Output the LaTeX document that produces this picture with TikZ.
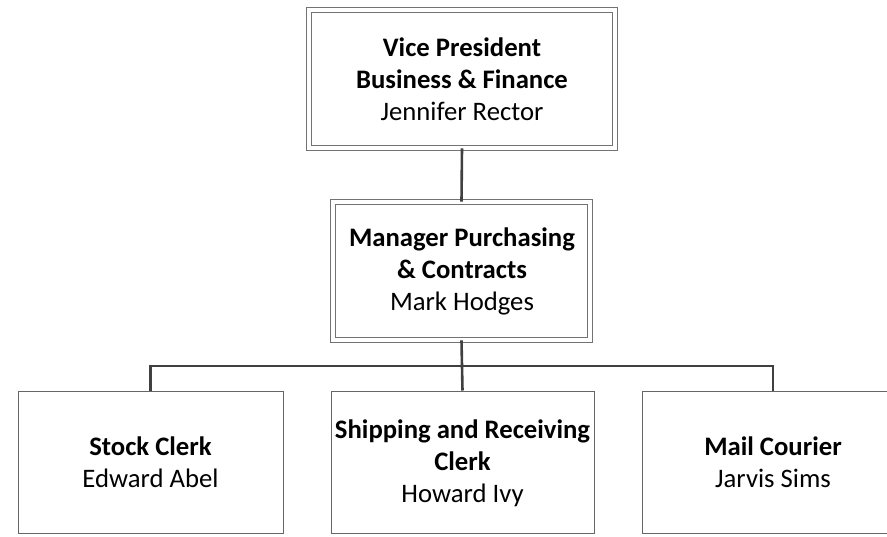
\documentclass[tikz,border=0pt]{standalone}
\usepackage{fontspec}
\setmainfont{Carlito}
\begin{document}
\begin{tikzpicture}[x=1pt,y=-1pt]
\tikzset{
 dbl/.style={draw=black!55, double=white, double distance=3.4pt, line width=0.9pt, inner sep=0pt},
 sbox/.style={draw=black!60, line width=1pt, inner sep=0pt, minimum height=142pt},
 txt/.style={align=center, font=\fontsize{26.7}{32}\selectfont, inner sep=0pt, text=black},
 conn/.style={draw=black!75, line width=2.6pt}
}
\useasboundingbox[fill=white] (0,0) rectangle (887,536);
\clip (0,0) rectangle (887,536);
% boxes
\node[dbl, minimum width=306pt, minimum height=138pt] (top) at (462,79) {};
\node[dbl, minimum width=257pt, minimum height=138pt] (mid) at (461.5,271) {};
\node[sbox, minimum width=265pt] (b1) at (150.5,462) {};
\node[sbox, minimum width=263pt] (b2) at (462.5,462) {};
\node[sbox, minimum width=262pt] (b3) at (773,462) {};
% texts
\node[txt] (ttop) at (462,79) {\textbf{Vice President}\\\textbf{Business \& Finance}\\Jennifer Rector};
\node[txt] (tmid) at (462,271) {\textbf{Manager Purchasing}\\\textbf{\& Contracts}\\Mark Hodges};
\node[txt] (tb1) at (150.5,462) {\textbf{Stock Clerk}\\Edward Abel};
\node[txt] (tb2) at (462.5,463) {\textbf{Shipping and Receiving}\\\textbf{Clerk}\\Howard Ivy};
\node[txt] (tb3) at (773,462) {\textbf{Mail Courier}\\Jarvis Sims};
% connectors
\coordinate (bus) at (462,366);
\draw[conn] (top.south) -- (mid.north);
\draw[conn] (mid.south) -- (bus);
\draw[conn] (b1.north) |- (bus) -| (b3.north);
\draw[conn] (bus) -- (b2.north);
\end{tikzpicture}
\end{document}
